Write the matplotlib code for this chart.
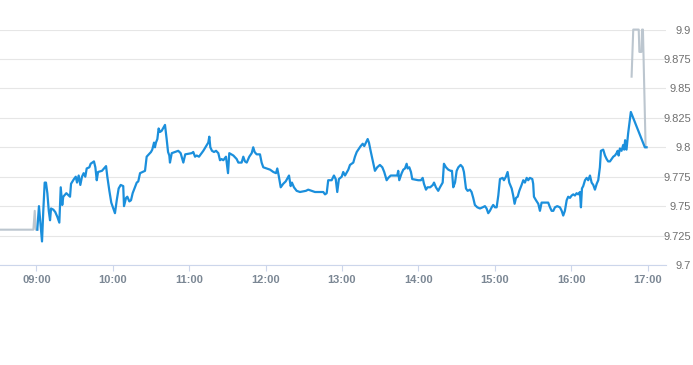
import numpy as np
import matplotlib
matplotlib.use('Agg')
import matplotlib.pyplot as plt

# minutes after 09:00 and price
blue_t1=[0.7,2.0,3.4,4.4,5.4,6.5,7.5,8.6,9.7,10.7,11.5,13.3,14.8,16.4,18.0,19.1,20.3,21.1,23.5,26.4,
	27.2,29.5,30.9,31.9,33.2,34.5,35.8,37.1,38.4,39.5,41.6,42.6,45.2,46.3,47.4,48.4,51.5,54.7,55.7,57.3,
	58.8,60.4,61.7,63.1,64.6,66.2,68.2]
blue_v1=[9.730,9.750,9.732,9.720,9.746,9.770,9.770,9.761,9.746,9.738,9.748,9.747,9.745,9.741,9.736,9.766,9.751,9.758,9.761,9.758,
	9.769,9.773,9.775,9.770,9.776,9.768,9.775,9.778,9.775,9.782,9.783,9.786,9.788,9.783,9.772,9.779,9.780,9.784,9.775,9.763,
	9.753,9.748,9.744,9.755,9.765,9.768,9.767]

blue_t2=[68.8,70.4,71.4,73.0,74.3,75.6,77.4,78.8,80.0,81.4,85.3,86.6,90.0,91.0,92.4,93.1,93.9,95.0,96.0,97.1,
	98.4,101.0,102.3,103.4,104.4,104.9,106.3,111.4,113.3,115.4,116.9,122.0,123.2,124.6,125.9,127.7,131.1,135.0,135.8,136.6,
	137.9,139.5,141.1,142.9,144.2,145.5,146.8,148.9,150.5,151.5]
blue_v2=[9.750,9.757,9.758,9.754,9.755,9.761,9.766,9.770,9.771,9.778,9.780,9.792,9.796,9.798,9.804,9.800,9.804,9.807,9.816,9.813,
	9.814,9.819,9.807,9.796,9.793,9.787,9.795,9.797,9.795,9.787,9.794,9.795,9.796,9.792,9.793,9.792,9.797,9.804,9.809,9.800,
	9.797,9.796,9.797,9.795,9.789,9.790,9.789,9.792,9.778,9.795]

blue_t3=[154.7,157.3,158.6,161.2,162.5,163.8,165.2,167.2,169.1,170.3,171.4,173.0,175.6,176.9,178.2,180.9,183.5,186.1,188.2,189.2,
	190.3,191.9,193.9,195.8,198.4,199.7,200.7,202.3,204.4,207.0,211.7,213.5,216.2,218.8,225.3,226.7,228.0,229.2]
blue_v3=[9.793,9.790,9.787,9.787,9.792,9.788,9.787,9.792,9.795,9.800,9.796,9.794,9.794,9.787,9.783,9.782,9.781,9.779,9.778,9.782,
	9.776,9.766,9.769,9.771,9.776,9.767,9.770,9.766,9.763,9.762,9.763,9.764,9.763,9.762,9.762,9.760,9.761,9.772]

blue_t4=[231.9,233.7,235.1,236.3,237.6,239.8,241.0,242.4,245.0,246.3,248.9,250.2,251.6,254.7,256.3,257.5,260.2,261.2,262.5,264.1,
	265.9,267.7,269.8,271.7,273.2,275.1,276.4,278.3,283.4,284.2,285.0,286.9,288.2,289.5,290.8,291.6,292.9,294.2,295.2,299.9,
	302.0,303.4,304.4,306.0]
blue_v4=[9.772,9.776,9.773,9.762,9.773,9.775,9.779,9.776,9.781,9.785,9.787,9.792,9.796,9.801,9.803,9.801,9.807,9.804,9.797,9.789,
	9.780,9.783,9.785,9.783,9.779,9.772,9.774,9.776,9.776,9.780,9.772,9.778,9.781,9.782,9.786,9.782,9.783,9.779,9.773,9.772,
	9.772,9.774,9.769,9.764]

blue_t5=[307.2,309.3,311.4,312.3,313.8,315.6,317.0,319.1,320.1,321.7,323.5,325.4,326.4,327.4,328.8,330.1,331.4,333.2,334.8,335.8,
	337.4,338.7,340.5,341.8,343.1,344.4,346.3,348.4,350.5,352.3,353.6,354.9,356.2,357.6,358.8,360.2,361.5,362.8,364.1,366.2,
	367.2,368.8,370.1,371.4,373.3,374.5,375.6,376.7,378.0,379.3]
blue_v5=[9.766,9.766,9.768,9.770,9.766,9.763,9.766,9.770,9.786,9.783,9.781,9.780,9.780,9.766,9.770,9.780,9.783,9.785,9.783,9.779,
	9.765,9.763,9.764,9.762,9.757,9.751,9.749,9.748,9.749,9.750,9.748,9.744,9.746,9.749,9.751,9.749,9.749,9.759,9.773,9.774,
	9.772,9.775,9.779,9.770,9.765,9.759,9.752,9.757,9.758,9.763]

blue_t6=[381.1,382.4,383.7,385.1,386.3,387.6,389.5,390.2,390.8,392.4,394.2,395.5,396.8,400.8,402.0,403.4,404.7,406.0,407.3,409.1,
	411.2,412.6,413.8,415.1,416.5,417.7,419.1,420.4,421.7,423.0,424.3,425.6,426.9,427.7,428.5,429.5,430.9,432.2,433.4,434.8,
	436.1,437.4,438.7,440.1,441.3,442.6,443.4,445.2,446.6,447.9,449.1,450.5,451.8,453.1,454.4,455.7,456.5,457.3,458.3,459.6,
	460.9,461.7,462.4,463.5,464.8,466.2,466.9,477.9,479.3]
blue_v6=[9.768,9.772,9.770,9.774,9.772,9.774,9.773,9.769,9.758,9.755,9.752,9.746,9.753,9.753,9.753,9.749,9.746,9.746,9.749,9.750,
	9.749,9.746,9.742,9.746,9.755,9.758,9.757,9.759,9.760,9.759,9.761,9.760,9.762,9.749,9.765,9.767,9.772,9.774,9.772,9.776,
	9.770,9.768,9.764,9.769,9.772,9.783,9.797,9.798,9.793,9.790,9.788,9.788,9.790,9.792,9.793,9.795,9.797,9.793,9.799,9.797,
	9.802,9.798,9.806,9.798,9.812,9.824,9.830,9.800,9.800]

# pre / post market in gray
pre_t=[-28.6,-2.4,-1.3,-0.5,0.7]
pre_v=[9.730,9.730,9.746,9.730,9.730]
post_t=[467.5,468.8,473.1,473.6,475.2,475.7,476.4,478.5]
post_v=[9.860,9.900,9.900,9.881,9.881,9.900,9.900,9.800]

xticks=[0,60,120,180,240,300,360,420,480]
xlabels=['09:00','10:00','11:00','12:00','13:00','14:00','15:00','16:00','17:00']
yticks=[9.7,9.725,9.75,9.775,9.8,9.825,9.85,9.875,9.9]
ylabels=['9.7','9.725','9.75','9.775','9.8','9.825','9.85','9.875','9.9']

blue_t=blue_t1+blue_t2+blue_t3+blue_t4+blue_t5+blue_t6
blue_v=blue_v1+blue_v2+blue_v3+blue_v4+blue_v5+blue_v6
assert len(blue_t)==len(blue_v)

plt.rcParams['font.family']=['Liberation Sans','DejaVu Sans']

fig=plt.figure(figsize=(6.93,3.65),dpi=100)
ax=fig.add_axes([0.0,0.274,0.961,0.645])

ax.plot(pre_t,pre_v,color='#bcc6cf',lw=1.5,clip_on=False,zorder=2)
ax.plot(post_t,post_v,color='#bcc6cf',lw=1.5,clip_on=False,zorder=2)
ax.plot(blue_t,blue_v,color='#1b8fdc',lw=1.6,clip_on=False,zorder=3,solid_joinstyle='round')

ax.set_xlim(-28.6,494.5)
ax.set_ylim(9.7,9.9)
ax.set_xticks(xticks)
ax.set_xticklabels(xlabels)
ax.set_yticks(yticks)
ax.set_yticklabels(ylabels)

ax.yaxis.tick_right()
ax.tick_params(axis='y',length=0,pad=18,labelsize=8,labelcolor='#707070')
for lab in ax.get_yticklabels():
	lab.set_horizontalalignment('right')
ax.tick_params(axis='x',length=4,width=0.8,color='#ccd6eb',pad=3,labelsize=8,labelcolor='#7b8794')
for lab in ax.get_xticklabels():
	lab.set_fontweight('bold')

ax.grid(axis='y',color='#e6e6e6',lw=0.8)
ax.set_axisbelow(True)
for s in ['top','left','right']:
	ax.spines[s].set_visible(False)
ax.spines['bottom'].set_color('#ccd6eb')
ax.spines['bottom'].set_linewidth(0.8)

fig.savefig('out.png',dpi=100)
